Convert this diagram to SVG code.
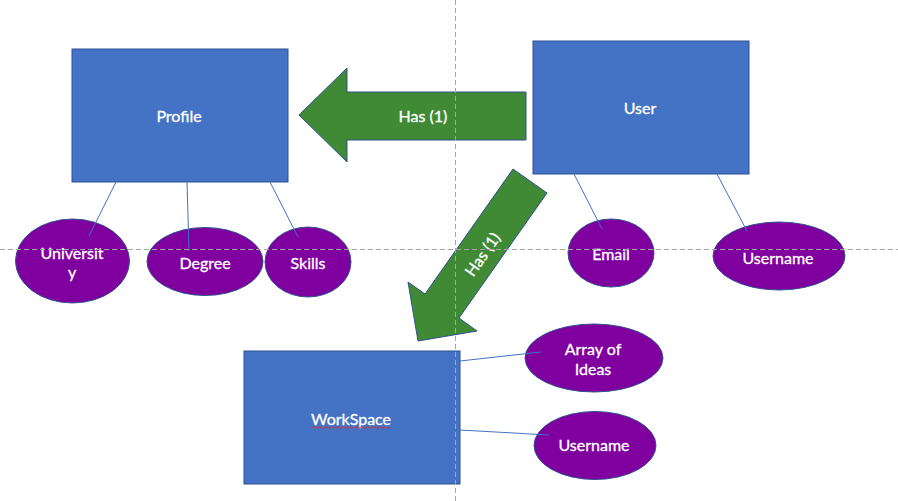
<svg xmlns="http://www.w3.org/2000/svg" width="898" height="501" viewBox="0 0 898 501">
<style>
.ent{fill:#4472C4;stroke:#2F528F;stroke-width:1}
.att{fill:#7F009F;stroke:#2F528F;stroke-width:1}
.arr{fill:#408A35;stroke:#2F528F;stroke-width:1}
.lbl{font-family:Lato,"Open Sans","Liberation Sans",sans-serif;font-size:16px;fill:#FFFFFF;stroke:#FFFFFF;stroke-width:0.3;text-anchor:middle;dominant-baseline:central}
.con{stroke:#4472C4;stroke-width:1;fill:none}
.guide{stroke:#A6A6A6;stroke-width:1;stroke-dasharray:5 3;fill:none}
</style>
<rect width="898" height="501" fill="#FFFFFF"/>
<g id="profile"><rect class="ent" x="72" y="49" width="216" height="133"/><text class="lbl" x="179" y="115">Profile</text></g>
<g id="user"><rect class="ent" x="533" y="41" width="216" height="133"/><text class="lbl" x="640" y="107">User</text></g>
<g id="workspace"><rect class="ent" x="244" y="351" width="216" height="133"/><text class="lbl" x="351" y="418">WorkSpace</text><path d="M312,427.5 q1.5,-2 3,0 t3,0 t3,0 t3,0 t3,0 t3,0 t3,0 t3,0 t3,0 t3,0 t3,0 t3,0 t3,0 t3,0 t3,0 t3,0 t3,0 t3,0 t3,0 t3,0 t3,0 t3,0 t3,0 t3,0 t3,0 t3,0" fill="none" stroke="#D03030" stroke-width="1"/></g>
<g id="university"><ellipse class="att" cx="72.5" cy="261" rx="57" ry="42"/><text class="lbl" x="72" y="252">Universit</text><text class="lbl" x="72" y="271">y</text></g>
<g id="degree"><ellipse class="att" cx="205" cy="261.5" rx="58" ry="34"/><text class="lbl" x="205" y="262">Degree</text></g>
<g id="skills"><ellipse class="att" cx="308" cy="262" rx="43" ry="35"/><text class="lbl" x="308" y="262">Skills</text></g>
<g id="email"><ellipse class="att" cx="611" cy="253" rx="43" ry="34"/><text class="lbl" x="611" y="253">Email</text></g>
<g id="user-username"><ellipse class="att" cx="779" cy="256" rx="66" ry="34"/><text class="lbl" x="778" y="257">Username</text></g>
<g id="array-of-ideas"><ellipse class="att" cx="594" cy="358" rx="69" ry="34"/><text class="lbl" x="593" y="348">Array of</text><text class="lbl" x="593" y="368">Ideas</text></g>
<g id="ws-username"><ellipse class="att" cx="595" cy="445.5" rx="61" ry="34"/><text class="lbl" x="594" y="444">Username</text></g>
<g id="connectors">
<line class="con" x1="116" y1="182" x2="89" y2="236"/>
<line class="con" x1="187" y1="182" x2="189" y2="251"/>
<line class="con" x1="270" y1="182" x2="298" y2="237"/>
<line class="con" x1="574" y1="174" x2="602" y2="229"/>
<line class="con" x1="717" y1="174" x2="747" y2="231"/>
<line class="con" x1="460" y1="361" x2="541" y2="352"/>
<line class="con" x1="460" y1="430" x2="549" y2="435"/>
<g id="has-profile"><polygon class="arr" points="299,115 347,68 347,92 526,92 526,140 347,140 347,162"/><text class="lbl" x="423" y="115">Has (1)</text></g>
<g id="has-workspace"><polygon class="arr" points="513,169 547,193 459,318 477,331 418,341 408,282 425,294"/><text class="lbl" x="482" y="254" transform="rotate(-55 482 254)">Has (1)</text></g>
</g>
<g id="guides">
<line class="guide" x1="0" y1="249.5" x2="898" y2="249.5"/>
<line class="guide" x1="455.5" y1="0" x2="455.5" y2="501"/>
</g>
</svg>
